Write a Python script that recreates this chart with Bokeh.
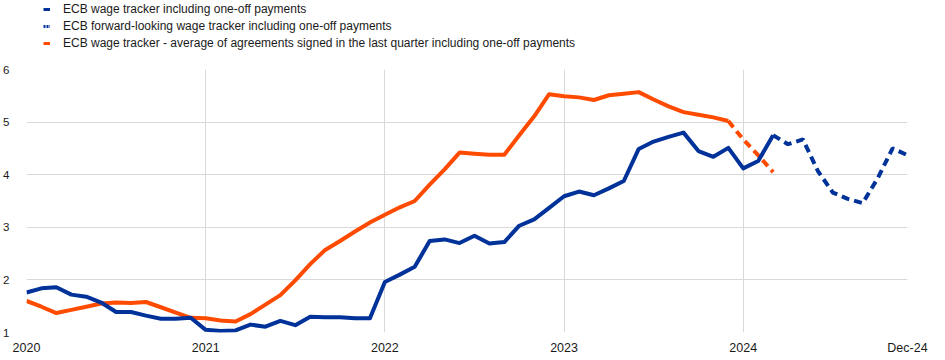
from bokeh.plotting import figure
from bokeh.layouts import column
from bokeh.models import ColumnDataSource, FixedTicker, Legend, LegendItem
from bokeh.embed import file_html
from bokeh.resources import INLINE

# ---- data (monthly, Jan 2020 .. Dec 2024) ----
month_labels = [f"{y}-{m:02d}" for y in range(2020, 2025) for m in range(1, 13)]

wage_tracker = [1.76, 1.84, 1.86, 1.72, 1.68, 1.57, 1.39, 1.39, 1.32, 1.26, 1.26, 1.28,
                1.05, 1.03, 1.04, 1.15, 1.11, 1.22, 1.14, 1.30, 1.29, 1.29, 1.27, 1.27,
                1.96, 2.10, 2.25, 2.74, 2.77, 2.70, 2.84, 2.69, 2.72, 3.03, 3.15, 3.37,
                3.59, 3.68, 3.61, 3.74, 3.88, 4.49, 4.63, 4.72, 4.80, 4.45, 4.34, 4.51,
                4.12, 4.26, 4.75]
forward_tracker = [4.75, 4.58, 4.67, 4.07, 3.66, 3.54, 3.46, 3.93, 4.50, 4.37]   # Mar-24 .. Dec-24
agreements = [1.60, 1.49, 1.37, 1.43, 1.49, 1.55, 1.57, 1.56, 1.58, 1.48, 1.38, 1.28,
              1.27, 1.23, 1.21, 1.35, 1.53, 1.71, 1.99, 2.30, 2.57, 2.74, 2.92, 3.09,
              3.24, 3.38, 3.50, 3.81, 4.10, 4.42, 4.40, 4.38, 4.38, 4.75, 5.11, 5.53,
              5.49, 5.47, 5.42, 5.51, 5.54, 5.57, 5.43, 5.30, 5.19, 5.14, 5.09, 5.02]
agreements_prov = [5.02, 4.67, 4.37, 4.05]   # Dec-23 .. Mar-24

x_tick_labels = {0: "2020", 12: "2021", 24: "2022", 36: "2023", 48: "2024", 59: "Dec-24"}
y_ticks = [1, 2, 3, 4, 5, 6]

legend_labels = ["ECB wage tracker including one-off payments",
                 "ECB forward-looking wage tracker including one-off payments",
                 "ECB wage tracker - average of agreements signed in the last quarter including one-off payments"]

BLUE = "#003299"
ORANGE = "#FF4B00"
GRID = "#d9d9d9"
FONT = "Liberation Sans"
TEXT = "#1a1a1a"

n_wt = len(wage_tracker)
n_ag = len(agreements)
x_all = list(range(len(month_labels)))

src_wt = ColumnDataSource(dict(x=x_all[:n_wt], y=wage_tracker))
src_fw = ColumnDataSource(dict(x=x_all[n_wt - 1:n_wt - 1 + len(forward_tracker)], y=forward_tracker))
src_ag = ColumnDataSource(dict(x=x_all[:n_ag], y=agreements))
src_ap = ColumnDataSource(dict(x=x_all[n_ag - 1:n_ag - 1 + len(agreements_prov)], y=agreements_prov))

# ---------------- main chart ----------------
p = figure(frame_width=881, frame_height=263, output_backend="svg", toolbar_location=None,
           x_range=(0, len(month_labels) - 1), y_range=(1, 6),
           min_border_left=19, min_border_right=29, min_border_top=8, min_border_bottom=20)
p.outline_line_color = None

p.line("x", "y", source=src_ag, color=ORANGE, line_width=4, line_join="round")
p.line("x", "y", source=src_ap, color=ORANGE, line_width=4, line_dash="8 5")
p.line("x", "y", source=src_wt, color=BLUE, line_width=4, line_join="round")
p.line("x", "y", source=src_fw, color=BLUE, line_width=4, line_dash="8 5")

p.xaxis.ticker = FixedTicker(ticks=list(x_tick_labels.keys()))
p.xaxis.major_label_overrides = x_tick_labels
p.yaxis.ticker = FixedTicker(ticks=y_ticks)
for ax in (p.xaxis[0], p.yaxis[0]):
    ax.axis_line_color = None
    ax.major_tick_line_color = None
    ax.minor_tick_line_color = None
    ax.major_label_text_font = FONT
    ax.major_label_text_color = TEXT
p.xaxis.major_label_text_font_size = "12.5px"
p.yaxis.major_label_text_font_size = "11.5px"
p.xaxis.major_label_standoff = 2
p.yaxis.major_label_standoff = 11

p.xgrid.ticker = FixedTicker(ticks=[0, 12, 24, 36, 48])
p.xgrid.grid_line_color = GRID
p.ygrid.ticker = FixedTicker(ticks=y_ticks)
p.ygrid.grid_line_color = GRID

# ---------------- legend strip ----------------
lf = figure(width=929, height=61, output_backend="svg", toolbar_location=None,
            x_range=(0, len(month_labels) - 1), y_range=(100, 101),
            x_axis_location=None, y_axis_location=None, min_border=0)
lf.outline_line_color = None
lf.grid.visible = False
# proxies for the legend keys (their data lie outside this strip's range)
k1 = lf.line("x", "y", source=src_wt, color=BLUE, line_width=3)
k2 = lf.line("x", "y", source=src_fw, color=BLUE, line_width=3, line_dash="2 1")
k3 = lf.line("x", "y", source=src_ag, color=ORANGE, line_width=3)

legend = Legend(items=[LegendItem(label=legend_labels[0], renderers=[k1]),
                       LegendItem(label=legend_labels[1], renderers=[k2]),
                       LegendItem(label=legend_labels[2], renderers=[k3])],
                location=(17, 11),
                orientation="vertical",
                glyph_width=7, glyph_height=14, label_height=14, spacing=3,
                label_standoff=13, padding=0, margin=0,
                border_line_color=None, background_fill_alpha=0,
                label_text_font=FONT, label_text_font_size="12px", label_text_color=TEXT)
lf.add_layout(legend, "center")

layout = column(lf, p, spacing=0)
open("out.html", "w").write(file_html(layout, INLINE))
